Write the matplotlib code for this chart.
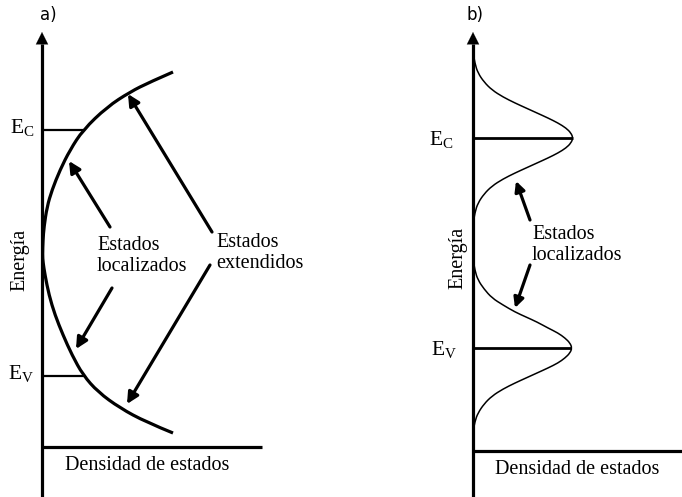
import numpy as np
import matplotlib.pyplot as plt
from matplotlib.path import Path
from matplotlib.patches import PathPatch

plt.rcParams['mathtext.fontset'] = 'custom'
plt.rcParams['mathtext.rm'] = 'Liberation Serif'

SERIF = 'Liberation Serif'

# panel a) density of states curve (pixel coordinates read off the picture)
curve_a_x = [173, 150, 130, 107, 83, 70, 60, 52, 47, 44, 43, 42.5,
             43, 45, 49, 55, 63, 72, 83, 98, 120, 146, 173]
curve_a_y = [72, 82, 92, 107, 130, 150, 170, 190, 207, 227, 240, 255,
             262, 275, 295, 315, 335, 355, 375, 392, 408, 422, 433]

# panel b) two bands of localized states
band_c_x = [473.5, 475, 478, 484, 492, 503, 515, 526, 537, 548, 558, 566, 571, 573,
            571, 566, 558, 548, 537, 526, 515, 503, 492, 484, 478, 475, 473.5]
band_c_y = [55, 64, 73, 82, 90, 97, 103, 108, 113, 118, 123, 128, 133, 138,
            143, 148, 153, 158, 163, 168, 173, 179, 186, 194, 203, 212, 221]
band_v_x = [473.5, 475, 478, 484, 492, 503, 515, 526, 537, 548, 558, 565, 570, 572,
            570, 565, 558, 548, 537, 526, 515, 503, 492, 484, 478, 475, 473.5]
band_v_y = [262, 271, 280, 289, 298, 305, 312, 317, 322, 328, 333, 338, 343, 348,
            353, 358, 363, 368, 373, 378, 383, 389, 396, 404, 413, 421, 429]

ec_a, ev_a = 130, 376
ec_b, ev_b = 138, 348


def smooth_curve(ax, xs, ys, lw):
    # quadratic bezier through the midpoints, read points act as control points
    pts = list(zip(xs, ys))
    verts = [pts[0]]
    codes = [Path.MOVETO]
    for i in range(1, len(pts) - 1):
        mid = ((pts[i][0] + pts[i + 1][0]) / 2, (pts[i][1] + pts[i + 1][1]) / 2)
        if i == len(pts) - 2:
            mid = pts[-1]
        verts += [pts[i], mid]
        codes += [Path.CURVE3, Path.CURVE3]
    patch = PathPatch(Path(verts, codes), facecolor='none', edgecolor='black',
                      lw=lw, joinstyle='round', capstyle='butt')
    ax.add_patch(patch)


fig = plt.figure(figsize=(6.82, 4.97), dpi=100)
ax = fig.add_axes([0, 0, 1, 1])
ax.set_xlim(0, 682)
ax.set_ylim(497, 0)
ax.axis('off')

k = dict(color='black', solid_capstyle='butt')
head = dict(arrowstyle='-|>', lw=0.1, mutation_scale=22, color='black', shrinkA=0, shrinkB=0)

# ---- panel a ----
ax.plot([42, 42], [497, 44], lw=2.3, **k)
ax.annotate('', xy=(42, 32), xytext=(42, 46), arrowprops=head)
ax.plot([42, 262], [447, 447], lw=2.3, **k)
smooth_curve(ax, curve_a_x, curve_a_y, 2.3)
ax.plot([42, 84], [ec_a, ec_a], lw=1.6, **k)
ax.plot([42, 85], [ev_a, ev_a], lw=1.6, **k)

ax.text(40, 15, 'a)', fontsize=12, family='DejaVu Sans', va='center', ha='left')
ax.text(34, ec_a - 2, r'$\mathrm{E_C}$', fontsize=15.5, ha='right', va='center')
ax.text(34, ev_a - 2, r'$\mathrm{E_V}$', fontsize=15.5, ha='right', va='center')
ax.text(20, 260, 'Energía', fontsize=14.5, family=SERIF, rotation=90, ha='center', va='center')
ax.text(147, 466, 'Densidad de estados', fontsize=14.5, family=SERIF, ha='center', va='center')
ax.text(97, 256, 'Estados\nlocalizados', fontsize=14.5, family=SERIF, ha='left', va='center',
        linespacing=1.1)
ax.text(216, 253, 'Estados\nextendidos', fontsize=14.5, family=SERIF, ha='left', va='center',
        linespacing=1.1)

arr = dict(arrowstyle='-|>', lw=2.3, mutation_scale=17, color='black', shrinkA=0, shrinkB=0)
ax.annotate('', xy=(69, 161), xytext=(110, 227), arrowprops=arr)
ax.annotate('', xy=(76, 349), xytext=(112, 288), arrowprops=arr)
ax.annotate('', xy=(128, 94), xytext=(212, 232), arrowprops=arr)
ax.annotate('', xy=(127, 404), xytext=(210, 265), arrowprops=arr)

# ---- panel b ----
ax.plot([473, 473], [497, 44], lw=2.3, **k)
ax.annotate('', xy=(473, 32), xytext=(473, 46), arrowprops=head)
ax.plot([473, 682], [451, 451], lw=2.3, **k)
smooth_curve(ax, band_c_x, band_c_y, 1.1)
smooth_curve(ax, band_v_x, band_v_y, 1.1)
ax.plot([473, 573], [ec_b, ec_b], lw=2.0, **k)
ax.plot([473, 571], [ev_b, ev_b], lw=2.0, **k)

ax.text(467, 15, 'b)', fontsize=12, family='DejaVu Sans', va='center', ha='left')
ax.text(453, ec_b + 2, r'$\mathrm{E_C}$', fontsize=15.5, ha='right', va='center')
ax.text(457, ev_b + 2, r'$\mathrm{E_V}$', fontsize=15.5, ha='right', va='center')
ax.text(458, 258, 'Energía', fontsize=14.5, family=SERIF, rotation=90, ha='center', va='center')
ax.text(577, 470, 'Densidad de estados', fontsize=14.5, family=SERIF, ha='center', va='center')
ax.text(532, 245, 'Estados\nlocalizados', fontsize=14.5, family=SERIF, ha='left', va='center',
        linespacing=1.1)

arr_b = dict(arrowstyle='-|>', lw=2.3, mutation_scale=15, color='black', shrinkA=0, shrinkB=0)
ax.annotate('', xy=(516, 181), xytext=(530, 220), arrowprops=arr_b)
ax.annotate('', xy=(515, 308), xytext=(530, 265), arrowprops=arr_b)

fig.savefig('out.png', dpi=100)
